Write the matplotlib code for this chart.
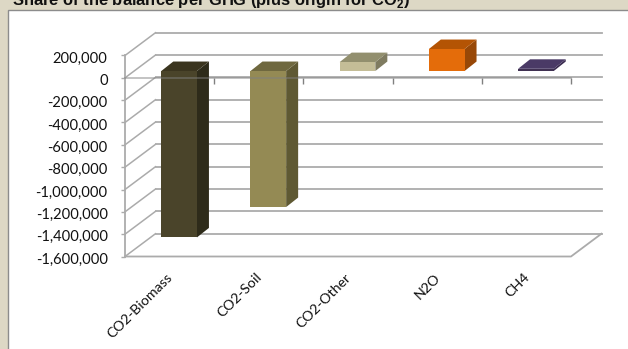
import matplotlib
matplotlib.use("Agg")
import matplotlib.pyplot as plt
from matplotlib.patches import Rectangle, Polygon
from matplotlib.transforms import Affine2D, IdentityTransform

categories = ["CO2-Biomass", "CO2-Soil", "CO2-Other", "N2O", "CH4"]
values = [-1490000, -1218000, 80000, 197000, 20000]
front_colors = ["#4A442A", "#948A54", "#C4BD97", "#E46C0A", "#403152"]
side_colors = ["#2E2B1A", "#5F5933", "#7F7B60", "#984807", "#3A2B50"]
top_colors = ["#3B351F", "#6F683F", "#928F6E", "#B45404", "#4A3A66"]
y_ticks = [200000, 0, -200000, -400000, -600000, -800000, -1000000, -1200000, -1400000, -1600000]
title = r"Share of the balance per GHG (plus origin for CO$_{\mathbf{2}}$)"

plt.rcParams["mathtext.fontset"] = "custom"
plt.rcParams["mathtext.bf"] = "Liberation Sans:bold"
plt.rcParams["mathtext.rm"] = "Liberation Sans:bold"

W, H = 628, 349
fig = plt.figure(figsize=(W / 100, H / 100), dpi=100, facecolor="#DDD8C5")
fig.patches.append(Rectangle((8 / W, -0.05), 1.1, (H - 10) / H + 0.05, transform=fig.transFigure,
                             facecolor="white", edgecolor="#8C8C8C", linewidth=1.0, zorder=-1))

left, right, top, bottom = 125, 571, 55.5, 256.5
ax = fig.add_axes([left / W, 1 - bottom / H, (right - left) / W, (bottom - top) / H])
ax.set_xlim(0, 5)
ax.set_ylim(-1600000, 200000)
ax.patch.set_alpha(0)
for side in ("top", "right", "left"):
    ax.spines[side].set_visible(False)

DX, DY = 30.5, 22.8
back = ax.transData + Affine2D().translate(DX, DY)
mid = ax.transData + Affine2D().translate(9.5, 6.8)
grid_col = "#ABABAB"

# back wall gridlines and left wall
for v in y_ticks:
    ax.plot([0, 5], [v, v], transform=back, color=grid_col, lw=1.3, clip_on=False, zorder=1)
    p = ax.transData.transform((0, v))
    ax.plot([p[0], p[0] + DX], [p[1], p[1] + DY], transform=IdentityTransform(),
            color=grid_col, lw=1.1, clip_on=False, zorder=1)
# floor
f0 = ax.transData.transform((0, -1600000))
f1 = ax.transData.transform((5, -1600000))
ax.plot([f0[0], f1[0], f1[0] + DX], [f0[1], f1[1], f1[1] + DY], transform=IdentityTransform(),
        color=grid_col, lw=1.3, clip_on=False, zorder=1)
ax.plot([0, 0], [-1600000, 200000], color=grid_col, lw=1.3, clip_on=False, zorder=2)

# bars
width = 0.40
centers = [i + 0.5 for i in range(len(categories))]
bdx, bdy = 12, 9.5
for c, v, fc, sc, tc in zip(centers, values, front_colors, side_colors, top_colors):
    ax.bar(c, v, width=width, color=fc, transform=mid, zorder=4, clip_on=False)
    a = mid.transform((c + width / 2, 0))
    b = mid.transform((c + width / 2, v))
    ax.add_patch(Polygon([a, b, (b[0] + bdx, b[1] + bdy), (a[0] + bdx, a[1] + bdy)],
                         transform=IdentityTransform(), facecolor=sc, edgecolor="none",
                         zorder=3, clip_on=False))
    edge = max(v, 0)
    tl = mid.transform((c - width / 2, edge))
    tr = mid.transform((c + width / 2, edge))
    ax.add_patch(Polygon([tl, tr, (tr[0] + bdx, tr[1] + bdy), (tl[0] + bdx, tl[1] + bdy)],
                         transform=IdentityTransform(), facecolor=tc, edgecolor="none",
                         zorder=3, clip_on=False))

# zero axis line over the bars
ax.plot([0, 5], [0, 0], color="#808080", lw=1.2, alpha=0.55, zorder=5, clip_on=False)
ax.spines["bottom"].set_visible(False)

# y axis
ax.set_yticks(y_ticks)
ax.set_yticklabels([f"{v:,}" for v in y_ticks], fontfamily="Lato", fontsize=10.6, color="#111111")
ax.tick_params(axis="y", length=3, width=1, color=grid_col, pad=9.5)
for lab in ax.get_yticklabels():
    lab.set_transform(lab.get_transform() + Affine2D().translate(0, -1.5))

# category boundary ticks on the zero line
ax.set_xticks(range(1, 6))
ax.set_xticklabels([])
ax.spines["bottom"].set_position(("data", 0))
ax.tick_params(axis="x", length=4, width=1, color="#808080", direction="out")

# category labels under the floor
sec = ax.secondary_xaxis("bottom")
sec.set_xticks(centers)
sec.set_xticklabels(categories, rotation=45, ha="right", rotation_mode="anchor",
                    fontfamily="Lato", fontsize=10.3, color="#111111")
sec.tick_params(axis="x", length=0, pad=10.5)
sec.spines["bottom"].set_visible(False)
for lab in sec.get_xticklabels():
    lab.set_transform(lab.get_transform() + Affine2D().translate(-3, 0))

fig.text(12 / W, 1 - 5 / H, title, fontfamily="Liberation Sans", fontweight="bold", fontsize=11.9,
         color="#111111", ha="left", va="baseline")

fig.savefig("out.png", dpi=100, facecolor=fig.get_facecolor())
